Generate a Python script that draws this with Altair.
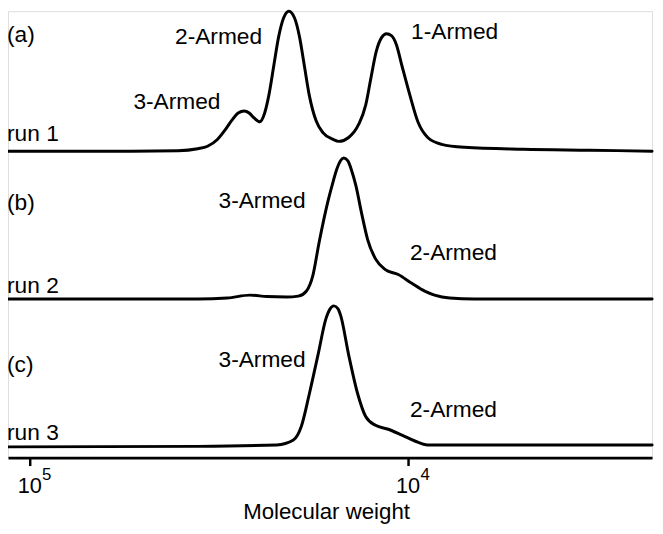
import altair as alt
import pandas as pd

# log10(molecular weight) sample positions and intensities (baseline-relative) for each run
run1_logmw = [5.057, 4.765, 4.608, 4.556, 4.530, 4.504, 4.483, 4.465, 4.449, 4.433, 4.420, 4.407,
              4.392, 4.379, 4.368, 4.355, 4.342, 4.329, 4.315, 4.300, 4.287, 4.274, 4.261, 4.243,
              4.225, 4.198, 4.183, 4.157, 4.131, 4.112, 4.099, 4.084, 4.070, 4.057, 4.044, 4.031,
              4.016, 3.995, 3.974, 3.948, 3.911, 3.851, 3.695, 3.520, 3.355]
run1_int = [0, 0, 0.5, 2.5, 5, 12, 22, 32, 39, 41, 39, 34,
            30, 39, 57, 87, 117, 136, 143, 136, 117, 87, 57, 31,
            19, 12, 10, 14, 27, 47, 73, 102, 116, 120, 118, 109,
            87, 57, 30, 14, 7, 4, 2, 1, 0]

run2_logmw = [5.057, 4.556, 4.478, 4.418, 4.373, 4.321, 4.290, 4.269, 4.251, 4.235, 4.211, 4.198,
              4.188, 4.179, 4.170, 4.159, 4.149, 4.138, 4.123, 4.107, 4.086, 4.060, 4.026, 3.990,
              3.956, 3.930, 3.890, 3.825, 3.355]
run2_int = [0, 0, 1, 4, 2.5, 2, 3, 8, 25, 58, 101, 120,
            133, 141, 144, 141, 131, 116, 88, 61, 41, 30, 25, 16,
            8, 4, 1, 0, 0]

run3_logmw = [5.057, 4.556, 4.347, 4.303, 4.282, 4.261, 4.238, 4.217, 4.206, 4.196, 4.185, 4.178,
              4.157, 4.133, 4.112, 4.086, 4.052, 4.016, 3.982, 3.948, 3.877, 3.355]
run3_int = [0, 0.5, 2, 7, 21, 54, 94, 131, 141, 144, 141, 134,
            94, 54, 31, 22, 18, 12, 6, 2, 2, 2]

run_names = ["run 1", "run 2", "run 3"]
run_offsets = [313, 162, 11]

# annotations: text, log10(MW) of left edge, height
ann_text = ["(a)", "2-Armed", "3-Armed", "1-Armed", "run 1",
            "(b)", "3-Armed", "2-Armed", "run 2",
            "(c)", "3-Armed", "2-Armed", "run 3"]
ann_logmw = [5.060, 4.616, 4.726, 3.992, 5.060,
             5.060, 4.501, 3.995, 5.060,
             5.060, 4.501, 3.995, 5.060]
ann_height = [424.5, 422, 356, 428, 323,
              252.5, 255, 202, 168,
              87, 93, 41, 18]

tick_values = [100000, 10000]
tick_base = ["10", "10"]
tick_exp = ["5", "4"]

rows = []
for name, off, xs, ys in [("run 1", run_offsets[0], run1_logmw, run1_int),
                          ("run 2", run_offsets[1], run2_logmw, run2_int),
                          ("run 3", run_offsets[2], run3_logmw, run3_int)]:
    for i, (lx, v) in enumerate(zip(xs, ys)):
        rows.append({"run": name, "order": i, "mw": 10 ** lx, "v": off + v})
lines_df = pd.DataFrame(rows)

ann_df = pd.DataFrame({"text": ann_text, "mw": [10 ** v for v in ann_logmw], "v": ann_height})
tick_df = pd.DataFrame({"mw": tick_values, "base": tick_base, "exp": tick_exp})

FONT = "Liberation Sans"
xscale = alt.Scale(type="log", domain=[2265, 114140], reverse=True, nice=False)
yscale = alt.Scale(domain=[0, 456], nice=False, zero=False)

lines = alt.Chart(lines_df).mark_line(
    color="black", strokeWidth=3, interpolate="monotone", strokeJoin="round", strokeCap="round"
).encode(
    x=alt.X("mw:Q", scale=xscale,
            axis=alt.Axis(values=tick_values, labels=False, grid=False,
                          domainColor="black", domainWidth=3,
                          tickColor="black", tickWidth=2.5, tickSize=8,
                          title="Molecular weight", titleFont=FONT, titleFontSize=22.5,
                          titleFontWeight="normal", titleColor="black",
                          titleBaseline="alphabetic", titleAlign="center",
                          titleX=322, titleY=62)),
    y=alt.Y("v:Q", scale=yscale, axis=None),
    detail="run:N",
    order="order:Q",
)

ann = alt.Chart(ann_df).mark_text(
    font=FONT, fontSize=23, color="black", align="left", baseline="alphabetic"
).encode(
    x=alt.X("mw:Q", scale=xscale),
    y=alt.Y("v:Q", scale=yscale),
    text="text:N",
)

tick_base_t = alt.Chart(tick_df).mark_text(
    font=FONT, fontSize=22, color="black", align="center", baseline="alphabetic"
).encode(
    x=alt.X("mw:Q", scale=xscale),
    y=alt.value(488),
    text="base:N",
)

tick_exp_t = alt.Chart(tick_df).mark_text(
    font=FONT, fontSize=17, color="black", align="left", baseline="alphabetic", dx=12.5
).encode(
    x=alt.X("mw:Q", scale=xscale),
    y=alt.value(475),
    text="exp:N",
)

chart = alt.layer(lines, ann, tick_base_t, tick_exp_t).properties(
    width=652, height=452,
    autosize=alt.AutoSizeParams(type="none"),
    padding={"left": 0, "top": 0, "right": 3, "bottom": 66},
).configure_view(stroke=None).configure(background="white")

chart.save("out.html", embed_options={"renderer": "svg", "actions": False})
